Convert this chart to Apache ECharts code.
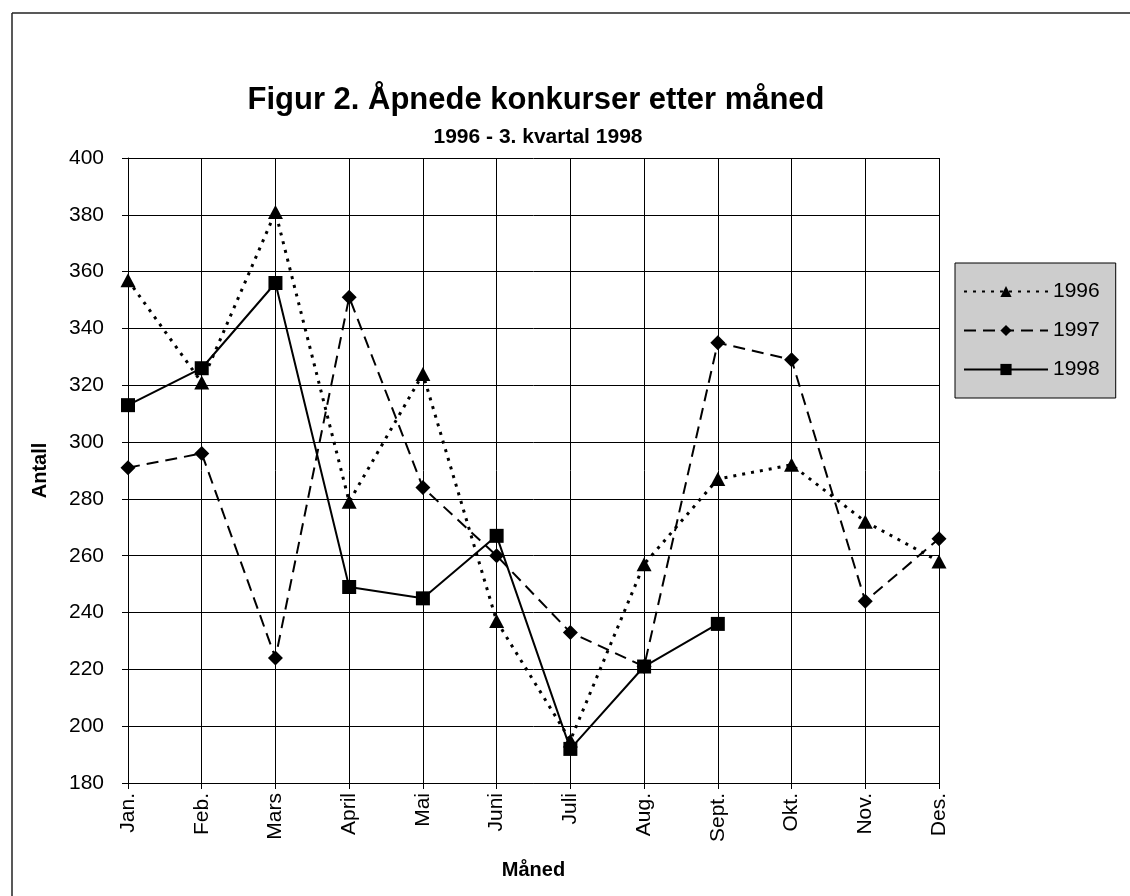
<!DOCTYPE html>
<html>
<head>
<meta charset="utf-8">
<script src="https://cdn.jsdelivr.net/npm/echarts@6/dist/echarts.min.js"></script>
<style>
  html, body { margin: 0; padding: 0; background: #fff; }
  #chart { width: 1130px; height: 896px; }
</style>
</head>
<body>
<div id="chart"></div>
<script>
var months = ['Jan.', 'Feb.', 'Mars', 'April', 'Mai', 'Juni', 'Juli', 'Aug.', 'Sept.', 'Okt.', 'Nov.', 'Des.'];
var y1996 = [357, 321, 381, 279, 324, 237, 195, 257, 287, 292, 272, 258];
var y1997 = [291, 296, 224, 351, 284, 260, 233, 221, 335, 329, 244, 266];
var y1998 = [313, 326, 356, 249, 245, 267, 192, 221, 236];

var font = '"Liberation Sans", Arial, sans-serif';
var chart = echarts.init(document.getElementById('chart'));

var option = {
    backgroundColor: '#fff',
    animation: false,
    textStyle: { fontFamily: font, color: '#000' },
    graphic: [
        // frame (only left and top edges are visible in the scan)
        { type: 'line', shape: { x1: 12, y1: 13, x2: 12, y2: 896 }, style: { stroke: '#222', lineWidth: 1.5 } },
        { type: 'line', shape: { x1: 12, y1: 13, x2: 1130, y2: 13 }, style: { stroke: '#222', lineWidth: 1.5 } },
        {
            type: 'text', x: 536, y: 100,
            style: { text: 'Figur 2. Åpnede konkurser etter måned', font: 'bold 31px ' + font, fill: '#000', align: 'center', verticalAlign: 'middle' }
        },
        {
            type: 'text', x: 538, y: 137,
            style: { text: '1996 - 3. kvartal 1998', font: 'bold 21px ' + font, fill: '#000', align: 'center', verticalAlign: 'middle' }
        }
    ],
    legend: {
        orient: 'vertical',
        left: 955,
        top: 263,
        padding: [18, 16, 18, 8],
        itemWidth: 84,
        itemHeight: 14,
        itemGap: 18,
        backgroundColor: '#cdcdcd',
        borderColor: '#000',
        borderWidth: 1,
        textStyle: { fontSize: 21, color: '#000', fontFamily: font, padding: [0, 0, 0, 0] },
        data: ['1996', '1997', '1998']
    },
    grid: { left: 128, right: 191, top: 158, bottom: 113 },
    xAxis: {
        type: 'category',
        data: months,
        boundaryGap: false,
        name: 'Måned',
        nameLocation: 'middle',
        nameGap: 77,
        nameTextStyle: { fontSize: 20, fontWeight: 'bold', color: '#000' },
        axisLine: { lineStyle: { color: '#000', width: 1 } },
        axisTick: { show: true, length: 6, lineStyle: { color: '#000' } },
        axisLabel: { rotate: 90, fontSize: 21, color: '#000', margin: 10, interval: 0 },
        splitLine: { show: true, interval: 0, lineStyle: { color: '#000', width: 1 } }
    },
    yAxis: {
        type: 'value',
        min: 180,
        max: 400,
        interval: 20,
        name: 'Antall',
        nameLocation: 'middle',
        nameGap: 78,
        nameTextStyle: { fontSize: 20, fontWeight: 'bold', color: '#000' },
        axisLine: { show: true, lineStyle: { color: '#000', width: 1 } },
        axisTick: { show: true, length: 6, lineStyle: { color: '#000' } },
        axisLabel: { fontSize: 21, color: '#000', margin: 24 },
        splitLine: { show: true, lineStyle: { color: '#000', width: 1 } }
    },
    series: [
        {
            name: '1996', type: 'line', data: y1996,
            symbol: 'triangle', symbolSize: [15, 14],
            itemStyle: { color: '#000' },
            lineStyle: { color: '#000', width: 3, type: [3, 6] }
        },
        {
            name: '1997', type: 'line', data: y1997,
            symbol: 'diamond', symbolSize: 15,
            itemStyle: { color: '#000' },
            lineStyle: { color: '#000', width: 2, type: [12, 7] }
        },
        {
            name: '1998', type: 'line', data: y1998,
            symbol: 'rect', symbolSize: 14,
            itemStyle: { color: '#000' },
            lineStyle: { color: '#000', width: 2, type: 'solid' }
        }
    ]
};

chart.setOption(option);
</script>
</body>
</html>
